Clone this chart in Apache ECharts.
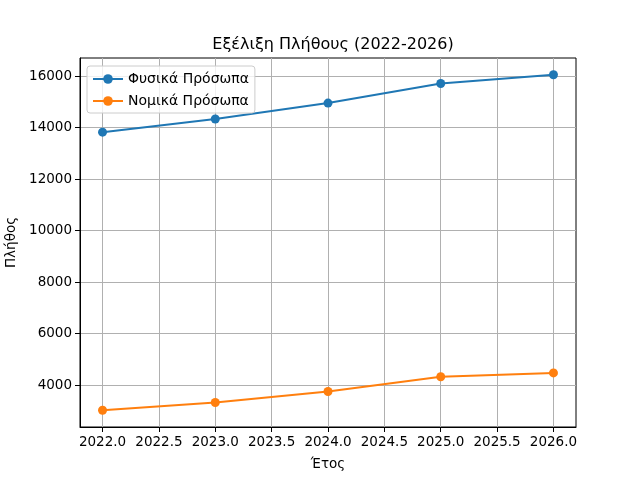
<!DOCTYPE html>
<html>
<head>
    <meta charset="UTF-8">
    <title>Εξέλιξη Πλήθους</title>
    <script src="https://cdn.jsdelivr.net/npm/echarts@6/dist/echarts.min.js"></script>
    <style>
        html, body { margin: 0; padding: 0; background: #fff; }
        #main { width: 640px; height: 480px; }
    </style>
</head>
<body>
<div id="main"></div>
<script type="text/javascript">
    // δεδομένα
    var years = [2022, 2023, 2024, 2025, 2026];
    var fysika = [13820, 14330, 14950, 15710, 16050];
    var nomika = [3020, 3320, 3750, 4320, 4470];
    var xTicks = [2022.0, 2022.5, 2023.0, 2023.5, 2024.0, 2024.5, 2025.0, 2025.5, 2026.0];
    var yTicks = [4000, 6000, 8000, 10000, 12000, 14000, 16000];

    function pairs(xs, ys) {
        return xs.map(function (x, i) { return [x, ys[i]]; });
    }

    var font = 'DejaVu Sans';
    var myChart = echarts.init(document.getElementById('main'));

    var option = {
        animation: false,
        textStyle: { fontFamily: font },
        title: {
            text: 'Εξέλιξη Πλήθους (2022-2026)',
            left: 328,
            textAlign: 'center',
            top: 32,
            textStyle: { fontFamily: font, fontSize: 16, fontWeight: 'normal', color: '#000' }
        },
        legend: {
            orient: 'vertical',
            left: 87,
            top: 66,
            padding: [6, 6, 5, 5],
            itemGap: 8,
            itemWidth: 30,
            itemHeight: 12,
            backgroundColor: 'rgba(255,255,255,0.8)',
            borderColor: '#cccccc',
            borderWidth: 1,
            borderRadius: 3,
            textStyle: { fontFamily: font, fontSize: 14, color: '#000' },
            data: ['Φυσικά Πρόσωπα', 'Νομικά Πρόσωπα']
        },
        grid: {
            left: 80,
            right: 64,
            top: 58,
            bottom: 53,
            outerBoundsMode: 'none',
            containLabel: false,
            show: true,
            borderColor: '#000',
            borderWidth: 1,
            backgroundColor: 'transparent'
        },
        xAxis: {
            type: 'value',
            min: 2021.8,
            max: 2026.2,
            name: 'Έτος',
            nameLocation: 'middle',
            nameGap: 30,
            nameTextStyle: { fontFamily: font, fontSize: 13.5, color: '#000' },
            axisLine: { show: true, onZero: false, lineStyle: { color: '#000', width: 1 } },
            axisTick: { show: true, length: 5, lineStyle: { color: '#000' }, customValues: xTicks },
            axisLabel: {
                color: '#000', fontSize: 13.5, fontFamily: font, margin: 8,
                customValues: xTicks,
                formatter: function (v) { return v.toFixed(1); }
            },
            splitLine: { show: true, lineStyle: { color: '#b0b0b0', width: 1 }, customValues: xTicks }
        },
        yAxis: {
            type: 'value',
            min: 2369,
            max: 16701,
            name: 'Πλήθος',
            nameLocation: 'middle',
            nameGap: 56,
            nameRotate: 90,
            nameTextStyle: { fontFamily: font, fontSize: 13.5, color: '#000' },
            axisLine: { show: true, lineStyle: { color: '#000', width: 1 } },
            axisTick: { show: true, length: 5, lineStyle: { color: '#000' }, customValues: yTicks },
            axisLabel: {
                color: '#000', fontSize: 13.5, fontFamily: font, margin: 8,
                customValues: yTicks,
                formatter: function (v) { return String(v); }
            },
            splitLine: { show: true, lineStyle: { color: '#b0b0b0', width: 1 }, customValues: yTicks }
        },
        series: [
            {
                name: 'Φυσικά Πρόσωπα',
                type: 'line',
                data: pairs(years, fysika),
                symbol: 'circle',
                symbolSize: 9,
                color: '#1f77b4',
                lineStyle: { width: 2, color: '#1f77b4' },
                itemStyle: { color: '#1f77b4' }
            },
            {
                name: 'Νομικά Πρόσωπα',
                type: 'line',
                data: pairs(years, nomika),
                symbol: 'circle',
                symbolSize: 9,
                color: '#ff7f0e',
                lineStyle: { width: 2, color: '#ff7f0e' },
                itemStyle: { color: '#ff7f0e' }
            }
        ]
    };
    myChart.setOption(option);
</script>
</body>
</html>
